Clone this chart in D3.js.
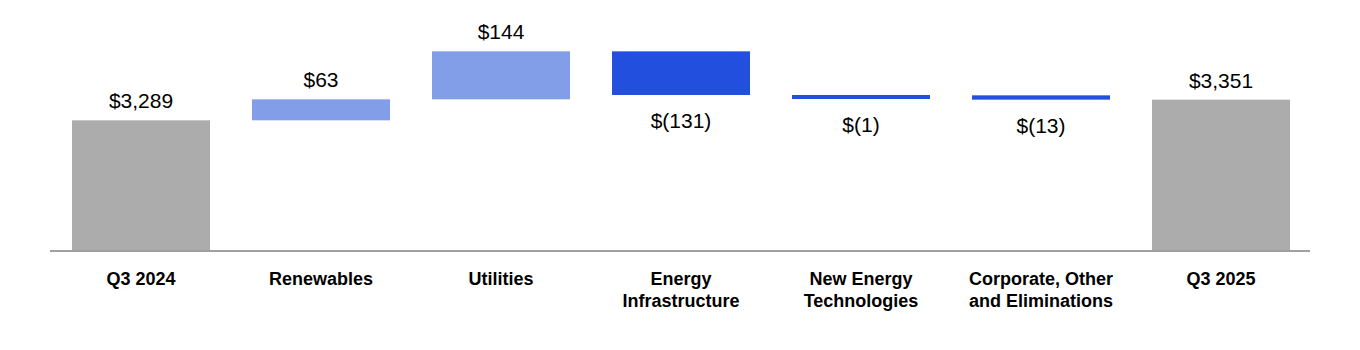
<!DOCTYPE html>
<html>
<head>
<meta charset="utf-8">
<script src="https://cdn.jsdelivr.net/npm/d3@7"></script>
<style>
  body { margin: 0; background: #fff; }
  text { font-family: "Liberation Sans", Arial, sans-serif; }
</style>
</head>
<body>
<div id="chart"></div>
<script>
// waterfall data
const categories = [
    ["Q3 2024"],
    ["Renewables"],
    ["Utilities"],
    ["Energy", "Infrastructure"],
    ["New Energy", "Technologies"],
    ["Corporate, Other", "and Eliminations"],
    ["Q3 2025"]
];
const values = [3289, 63, 144, -131, -1, -13, 3351];
const kinds = ["total", "delta", "delta", "delta", "delta", "delta", "total"];
const valueLabels = ["$3,289", "$63", "$144", "$(131)", "$(1)", "$(13)", "$3,351"];

const width = 1360, height = 350;
const baseY = 250;

const x = d3.scaleBand()
    .domain(d3.range(categories.length))
    .range([51, 1311])
    .paddingInner(0.2333)
    .paddingOuter(0.1167);

const y = d3.scaleLinear()
    .domain([2900, 3500])
    .range([baseY, 50]);

// build running start / end
let running = 0;
const bars = values.map(function (v, i) {
    let start, end;
    if (kinds[i] === "total") {
        start = y.domain()[0];
        end = v;
        running = v;
    } else {
        start = running;
        end = running + v;
        running = end;
    }
    return {i: i, v: v, kind: kinds[i], start: start, end: end};
});

const color = function (d) {
    if (d.kind === "total") return "#acacac";
    return d.v >= 0 ? "#829ee8" : "#224fde";
};

const svg = d3.select("#chart").append("svg")
    .attr("width", width)
    .attr("height", height);

const minH = 4;

svg.selectAll(".bar")
    .data(bars)
    .enter().append("rect")
    .attr("class", "bar")
    .attr("x", function (d) { return x(d.i); })
    .attr("width", x.bandwidth())
    .attr("y", function (d) { return Math.min(y(d.start), y(d.end)); })
    .attr("height", function (d) {
        return Math.max(minH, Math.abs(y(d.start) - y(d.end)));
    })
    .attr("fill", color);

// axis line
svg.append("line")
    .attr("x1", 50)
    .attr("x2", 1310)
    .attr("y1", baseY + 1)
    .attr("y2", baseY + 1)
    .attr("stroke", "#a0a0a0")
    .attr("stroke-width", 2);

// value labels
svg.selectAll(".val")
    .data(bars)
    .enter().append("text")
    .attr("class", "val")
    .attr("x", function (d) { return x(d.i) + x.bandwidth() / 2; })
    .attr("y", function (d) {
        const top = Math.min(y(d.start), y(d.end));
        const bottom = top + Math.max(minH, Math.abs(y(d.start) - y(d.end)));
        return d.v >= 0 ? top - 12 : bottom + 33;
    })
    .attr("text-anchor", "middle")
    .attr("font-size", "21px")
    .attr("fill", "#000")
    .text(function (d) { return valueLabels[d.i]; });

// category labels
const cat = svg.selectAll(".cat")
    .data(categories)
    .enter().append("text")
    .attr("class", "cat")
    .attr("text-anchor", "middle")
    .attr("font-size", "18px")
    .attr("font-weight", "bold")
    .attr("fill", "#000");

cat.selectAll("tspan")
    .data(function (d, i) { return d.map(function (t, j) { return {t: t, j: j, i: i}; }); })
    .enter().append("tspan")
    .attr("x", function (d) { return x(d.i) + x.bandwidth() / 2; })
    .attr("y", function (d) { return 285 + d.j * 22; })
    .text(function (d) { return d.t; });
</script>
</body>
</html>
